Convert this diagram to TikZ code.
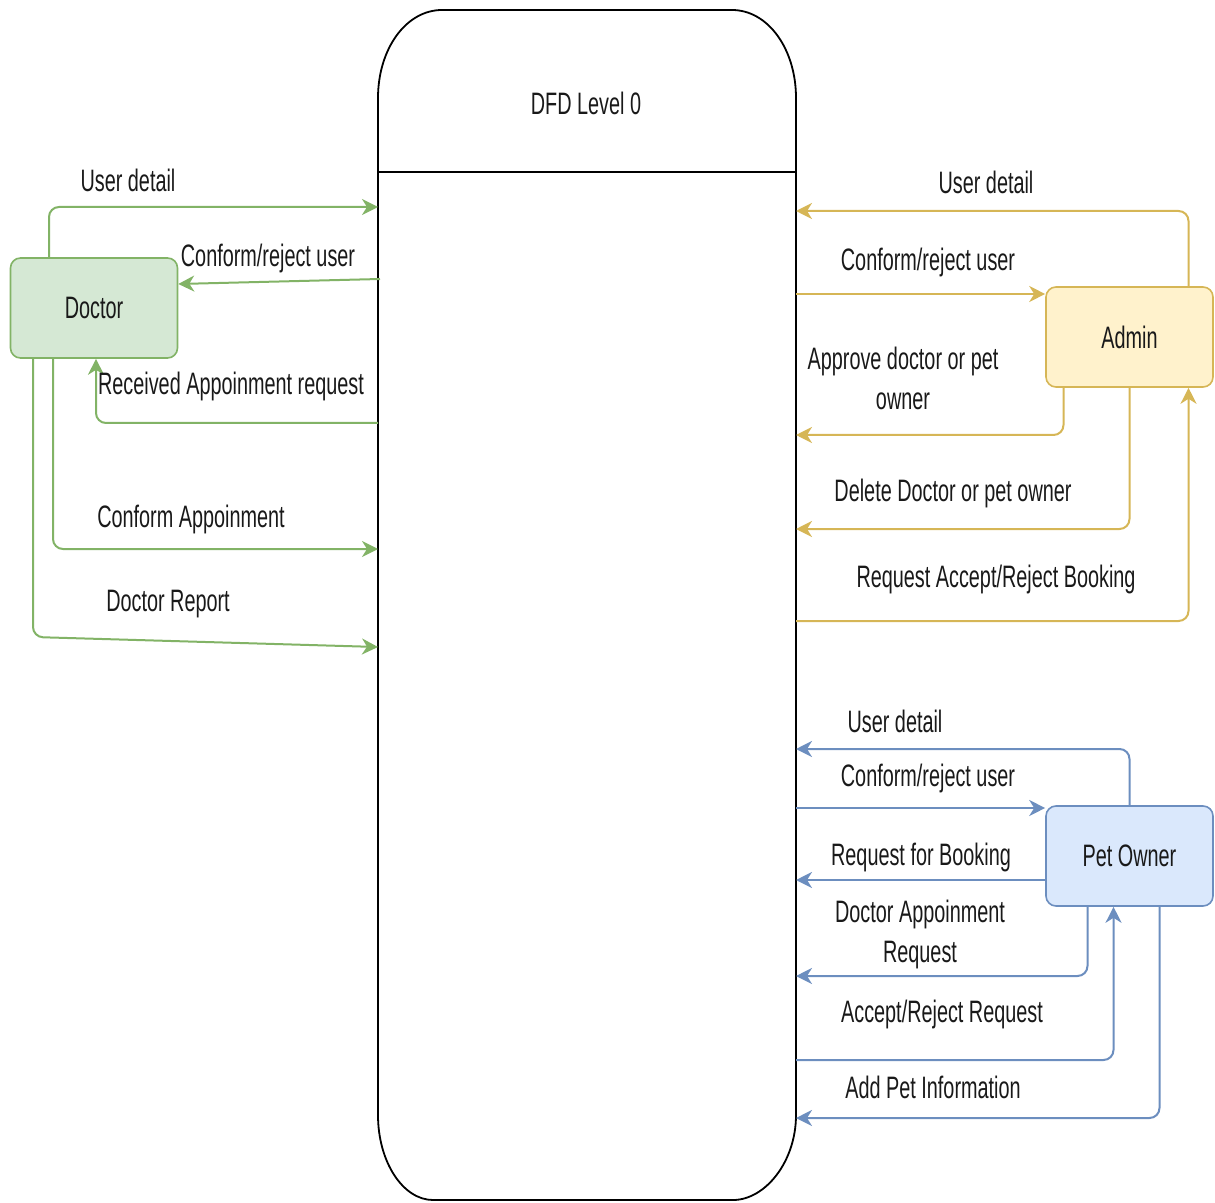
\documentclass[tikz,border=0pt]{standalone}
\usepackage{fontspec}
\setmainfont{Liberation Sans}[FakeStretch=0.64]
\usetikzlibrary{arrows.meta}
\definecolor{gstroke}{HTML}{82B366}
\definecolor{gfill}{HTML}{D5E8D4}
\definecolor{ystroke}{HTML}{D6B656}
\definecolor{yfill}{HTML}{FFF2CC}
\definecolor{bstroke}{HTML}{6C8EBF}
\definecolor{bfill}{HTML}{DAE8FC}
\begin{document}
\begin{tikzpicture}[x=0.5pt,y=-0.5pt,
  every node/.style={font=\fontsize{15.5}{20}\selectfont, text=black!90},
  entity/.style={rounded corners=5pt, minimum width=83.5pt, minimum height=50pt, line width=0.8pt, inner sep=0pt},
  flow/.style={line width=1pt, rounded corners=5pt, -{Stealth[length=8pt,width=8pt,inset=2.5pt]}},
  gflow/.style={flow, draw=gstroke},
  yflow/.style={flow, draw=ystroke},
  bflow/.style={flow, draw=bstroke},
  lbl/.style={inner sep=1pt, align=center}]
\useasboundingbox (0,0) rectangle (1215,1203);
% process
\draw[line width=0.9pt] (378,98) .. controls (378,49) and (406,10) .. (442,10) -- (732,10)
  .. controls (768,10) and (796,49) .. (796,98) -- (796,1115)
  .. controls (796,1161.9) and (765,1200) .. (733,1200) -- (433,1200)
  .. controls (403,1200) and (378,1161.9) .. (378,1115) -- cycle;
\draw[line width=0.9pt] (378,172) -- (796,172);
\node (title) at (586,103) {DFD Level 0};
% entities
\node[entity, draw=gstroke, fill=gfill] (doc) at (94,308) {Doctor};
\node[entity, draw=ystroke, fill=yfill] (adm) at (1129.5,337) {Admin};
\node[entity, draw=bstroke, fill=bfill] (pet) at (1129.5,856) {Pet Owner};
% process boundary points
\coordinate (g1) at (378,207);
\coordinate (g2) at (380,279);
\coordinate (g3) at (378,423);
\coordinate (g4) at (378,549);
\coordinate (g5) at (378,647);
\coordinate (a1) at (796,211);
\coordinate (a2) at (796,294);
\coordinate (a3) at (796,435);
\coordinate (a4) at (796,529);
\coordinate (a5) at (796,621);
\coordinate (b1) at (796,749);
\coordinate (b2) at (796,808);
\coordinate (b3) at (796,880);
\coordinate (b4) at (796,976);
\coordinate (b5) at (796,1060);
\coordinate (b6) at (796,1118);
% doctor flows
\draw[gflow] ([xshift=-22.5pt]doc.north) |- (g1);
\draw[gflow] (g2) -- ([yshift=12pt]doc.east);
\draw[gflow] (g3) -| ([xshift=1pt]doc.south);
\draw[gflow] ([xshift=-20.5pt]doc.south) |- (g4);
\draw[gflow] ([xshift=-30.5pt]doc.south) -- (33,637) -- (g5);
% admin flows
\draw[yflow] ([xshift=29.5pt]adm.north) |- (a1);
\draw[yflow] (a2) -- (adm.west |- a2);
\draw[yflow] ([xshift=-33pt]adm.south) |- (a3);
\draw[yflow] (adm.south) |- (a4);
\draw[yflow] (a5) -| ([xshift=29.5pt]adm.south);
% pet owner flows
\draw[bflow] (pet.north) |- (b1);
\draw[bflow] (b2) -- (pet.west |- b2);
\draw[bflow] (pet.west |- b3) -- (b3);
\draw[bflow] ([xshift=-21pt]pet.south) |- (b4);
\draw[bflow] (b5) -| ([xshift=-8pt]pet.south);
\draw[bflow] ([xshift=15pt]pet.south) |- (b6);
% labels
\node[lbl] (l1) at (128,180) {User detail};
\node[lbl] (l2) at (268,258) {Conform/reject user};
\node[lbl] (l3) at (231,386) {Received Appoinment request};
\node[lbl] (l4) at (191,519) {Conform Appoinment};
\node[lbl] (l5) at (168,604) {Doctor Report};
\node[lbl] (l6) at (986,182) {User detail};
\node[lbl] (l7) at (928,262) {Conform/reject user};
\node[lbl] (l8) at (903,378) {Approve doctor or pet\\owner};
\node[lbl] (l9) at (953,493) {Delete Doctor or pet owner};
\node[lbl] (l10) at (996,579) {Request Accept/Reject Booking};
\node[lbl] (l11) at (895,721) {User detail};
\node[lbl] (l12) at (928,778) {Conform/reject user};
\node[lbl] (l13) at (921,857) {Request for Booking};
\node[lbl] (l14) at (920,934) {Doctor Appoinment\\Request};
\node[lbl] (l15) at (942,1014) {Accept/Reject Request};
\node[lbl] (l16) at (933,1087) {Add Pet Information};
\end{tikzpicture}
\end{document}
